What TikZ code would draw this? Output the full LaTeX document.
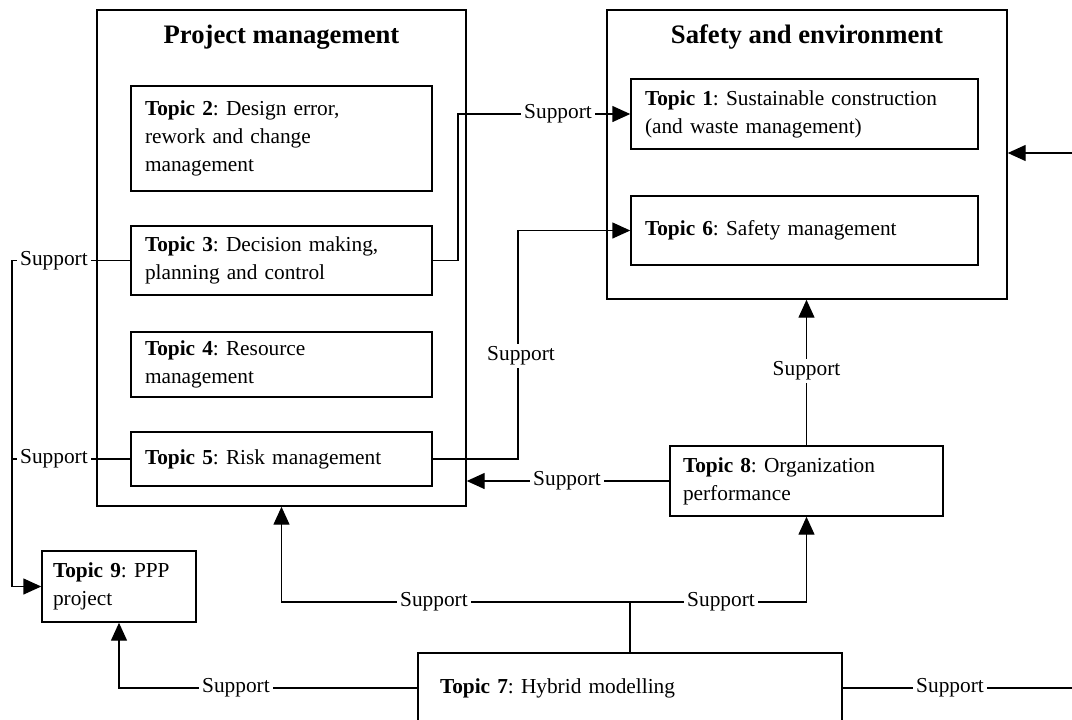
\documentclass[tikz,border=0pt]{standalone}
\usepackage{fontspec}
\setmainfont{Liberation Serif}
\usetikzlibrary{arrows.meta}
\frenchspacing
\begin{document}
\begin{tikzpicture}[x=0.75pt,y=-0.75pt,
  line width=1.1pt,
  box/.style={draw, rectangle, line width=1.1pt, inner ysep=0pt, align=left, font=\fontsize{16}{21}\selectfont\frenchspacing},
  outer/.style={draw, rectangle, line width=1.1pt, inner sep=0pt},
  ttl/.style={font=\fontsize{20}{24}\selectfont\bfseries, inner sep=0pt},
  lbl/.style={inner xsep=2pt, inner ysep=1.5pt, font=\fontsize{16}{19}\selectfont},
  arr/.style={-{Triangle[length=13.5pt,width=12pt]}}
]
\clip (0,0) rectangle (1072,719);
\useasboundingbox (0,0) rectangle (1072,719);

% group boxes
\node[outer, minimum width=276.75pt, minimum height=372pt] (pm) at (281.5,258) {};
\node[ttl] (pmt) at (281.5,37) {Project management};
\node[outer, minimum width=300pt, minimum height=216.75pt] (se) at (807,154.5) {};
\node[ttl] (set) at (807,37) {Safety and environment};

% topic boxes
\node[box, minimum width=225.75pt, minimum height=78.75pt, text width=204.75pt, inner xsep=10.5pt] (t2) at (281.5,138.5)
  {\textbf{Topic 2}: Design error,\\rework and change\\management};
\node[box, minimum width=225.75pt, minimum height=51.75pt, text width=204.75pt, inner xsep=10.5pt] (t3) at (281.5,260.5)
  {\textbf{Topic 3}: Decision making,\\planning and control};
\node[box, minimum width=225.75pt, minimum height=48.75pt, text width=204.75pt, inner xsep=10.5pt] (t4) at (281.5,364.5)
  {\textbf{Topic 4}: Resource\\management};
\node[box, minimum width=225.75pt, minimum height=40.5pt, text width=204.75pt, inner xsep=10.5pt] (t5) at (281.5,459)
  {\textbf{Topic 5}: Risk management};
\node[box, minimum width=260.25pt, minimum height=52.5pt, text width=239.25pt, inner xsep=10.5pt] (t1) at (804.5,114)
  {\textbf{Topic 1}: Sustainable construction\\(and waste management)};
\node[box, minimum width=260.25pt, minimum height=51.75pt, text width=239.25pt, inner xsep=10.5pt] (t6) at (804.5,230.5)
  {\textbf{Topic 6}: Safety management};
\node[box, minimum width=204.75pt, minimum height=52.5pt, text width=185.25pt, inner xsep=9.75pt] (t8) at (806.5,481)
  {\textbf{Topic 8}: Organization\\performance};
\node[box, minimum width=115.5pt, minimum height=53.25pt, text width=99pt, inner xsep=8.25pt] (t9) at (119,586.5)
  {\textbf{Topic 9}: PPP\\project};
\node[box, minimum width=318pt, minimum height=52.5pt, text width=285pt, inner xsep=16.5pt] (t7) at (630,688)
  {\textbf{Topic 7}: Hybrid modelling};

% labels
\node[lbl] (s1) at (558,114) {Support};
\node[lbl] (s2) at (521,356) {Support};
\node[lbl] (s3) at (54,260.5) {Support};
\node[lbl] (s4) at (54,459) {Support};
\node[lbl] (s5) at (567,481) {Support};
\node[lbl] (s6) at (806.5,371) {Support};
\node[lbl] (s7) at (434,602) {Support};
\node[lbl] (s8) at (721,602) {Support};
\node[lbl] (s9) at (236,688) {Support};
\node[lbl] (s10) at (950,688) {Support};

% helper coordinates
\coordinate (c1) at (458,260.5);
\coordinate (c2) at (518,459);
\coordinate (c3) at (518,230.5);
\coordinate (v1) at (12,260.5);
\coordinate (v2) at (12,459);
\coordinate (v3) at (12,586.5);
\coordinate (j) at (630,602);
\coordinate (r1) at (1090,688);
\coordinate (r2) at (1090,153);

% connectors
\draw (t3.east) -- (c1) |- (s1.west);
\draw[arr] (s1.east) -- (t1.west);

\draw (t5.east) -- (c2) -- (c2 |- s2.south);
\draw[arr] (c3 |- s2.north) -- (c3) -- (t6.west);

\draw (t3.west) -- (s3.east);
\draw (t5.west) -- (s4.east);
\draw (s4.west) -- (v2);
\draw[arr] (s3.west) -- (v1) -- (v3) -- (t9.west);

\draw (t8.west) -- (s5.east);
\draw[arr] (s5.west) -- (s5.west -| pm.east);

\draw (t8.north) -- (s6.south);
\draw[arr] (s6.north) -- (s6.north |- se.south);

\draw (t7.north) -- (j);
\draw (j) -- (s7.east);
\draw[arr] (s7.west) -| (pm.south);
\draw (j) -- (s8.west);
\draw[arr] (s8.east) -| (t8.south);

\draw (t7.west) -- (s9.east);
\draw[arr] (s9.west) -| (t9.south);

\draw (t7.east) -- (s10.west);
\draw (s10.east) -- (r1) -- (r2);
\draw[arr] (r2) -- (r2 -| se.east);
\end{tikzpicture}
\end{document}
